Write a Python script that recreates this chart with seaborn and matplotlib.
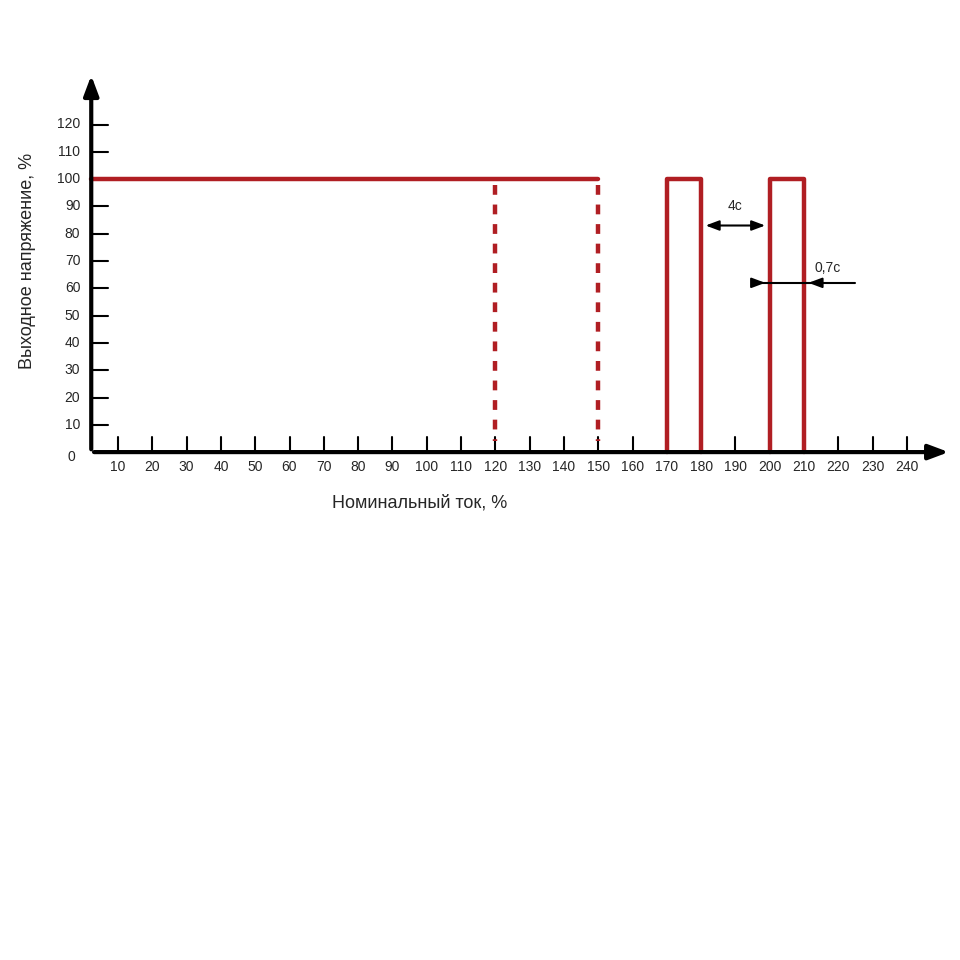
import numpy as np
import pandas as pd
import matplotlib
matplotlib.use('Agg')
import matplotlib.pyplot as plt
import seaborn as sns

# data
x_ticks = list(range(10, 250, 10))
y_ticks = list(range(10, 130, 10))
level_x = [2, 150]
level_y = [100, 100]
trip_x = [120, 150]
trip_top = 98
trip_bottom = 4
pulse1_x = [170, 170, 180, 180]
pulse2_x = [200, 200, 210, 210]
pulse_y = [0, 100, 100, 0]

red = '#B01E23'

sns.set_style('white')
plt.rcParams['font.family'] = ['Liberation Sans', 'DejaVu Sans']

fig = plt.figure(figsize=(9.6, 9.6), dpi=100)
# map data to pixels: x 0 -> 83.7px, 3.43 px/unit; y 0 -> 452px, 2.73 px/unit
ax = fig.add_axes([83.7 / 960, (960 - 534) / 960, 255 * 3.43 / 960, 180 * 2.73 / 960])
ax.set_xlim(0, 255)
ax.set_ylim(-30, 150)
ax.axis('off')

# axes with arrows
ax.annotate('', xy=(253, 0), xytext=(2.2, 0),
            arrowprops=dict(arrowstyle='-|>,head_length=1.2,head_width=0.45', lw=3, color='black'))
ax.annotate('', xy=(2.2, 139), xytext=(2.2, 0),
            arrowprops=dict(arrowstyle='-|>,head_length=1.2,head_width=0.45', lw=3, color='black'))

for t in x_ticks:
    ax.plot([t, t], [0, 5.5], color='black', lw=1.5)
    ax.text(t, -5.5, str(t), ha='center', va='center', fontsize=10)
for t in y_ticks:
    ax.plot([2.2, 7], [t, t], color='black', lw=1.5)
    ax.text(-1, t, str(t), ha='right', va='center', fontsize=10)
ax.text(-2.5, -1.8, '0', ha='right', va='center', fontsize=10)

# red curves
df_level = pd.DataFrame({'x': level_x, 'y': level_y})
sns.lineplot(data=df_level, x='x', y='y', ax=ax, color=red, lw=3.2, solid_capstyle='round')
for tx in trip_x:
    ax.plot([tx, tx], [trip_top, trip_bottom], color=red, lw=3.2,
            linestyle=(0, (2.2, 2.2)))
for px in (pulse1_x, pulse2_x):
    sns.lineplot(x=px, y=pulse_y, ax=ax, color=red, lw=3.2, sort=False,
                 solid_joinstyle='round', estimator=None)

# dimension arrows
ax.annotate('', xy=(180.5, 83), xytext=(199.5, 83),
            arrowprops=dict(arrowstyle='<|-|>,head_length=0.8,head_width=0.3', lw=1.5, color='black'))
ax.text(190, 90, '4с', ha='center', va='center', fontsize=10)
ax.plot([196, 225], [62, 62], color='black', lw=1.5)
ax.annotate('', xy=(199.5, 62), xytext=(195, 62),
            arrowprops=dict(arrowstyle='-|>,head_length=0.8,head_width=0.3', lw=1.5, color='black'))
ax.annotate('', xy=(210.5, 62), xytext=(216, 62),
            arrowprops=dict(arrowstyle='-|>,head_length=0.8,head_width=0.3', lw=1.5, color='black'))
ax.text(217, 67.5, '0,7с', ha='center', va='center', fontsize=10)

ax.text(-16.5, 70, 'Выходное напряжение, %', rotation=90, ha='center', va='center', fontsize=13)
ax.text(98, -18.5, 'Номинальный ток, %', ha='center', va='center', fontsize=13)

fig.savefig('out.png', dpi=100)
